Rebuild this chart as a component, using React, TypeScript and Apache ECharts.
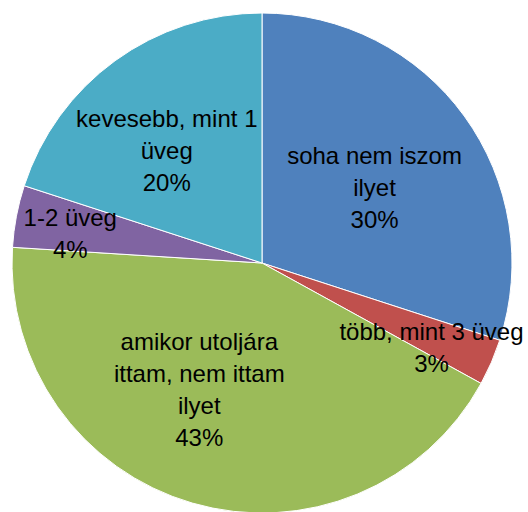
import React, { useEffect, useRef } from "react";
import * as echarts from "echarts";

const categories = [
  "soha nem iszom ilyet",
  "több, mint 3 üveg",
  "amikor utoljára ittam, nem ittam ilyet",
  "1-2 üveg",
  "kevesebb, mint 1 üveg",
];
const values = [30, 3, 43, 4, 20];
const labelTexts = [
  "soha nem iszom\nilyet",
  "több, mint 3 üveg",
  "amikor utoljára\nittam, nem ittam\nilyet",
  "1-2 üveg",
  "kevesebb, mint 1\nüveg",
];
const colors = ["#4F81BD", "#C0504D", "#9BBB59", "#8064A2", "#4BACC6"];
const labelOffsets = [
  [9, 0],
  [52, 34],
  [-27, 4],
  [-66, -6],
  [-20, -9],
];

export default function App() {
  const ref = useRef<HTMLDivElement>(null);
  useEffect(() => {
    if (!ref.current) return;
    const chart = echarts.init(ref.current, undefined, { renderer: "svg" });
    const total = values.reduce((a, b) => a + b, 0);
    chart.setOption({
      animation: false,
      backgroundColor: "#ffffff",
      series: [
        {
          type: "pie",
          center: [262, 263],
          radius: 250,
          startAngle: 90,
          clockwise: true,
          avoidLabelOverlap: false,
          itemStyle: { borderColor: "#ffffff", borderWidth: 1 },
          label: {
            show: true,
            position: "inside",
            color: "#000000",
            fontFamily: "Liberation Sans",
            fontSize: 24,
            lineHeight: 32,
            align: "center",
            formatter: (p: any) =>
              labelTexts[p.dataIndex] + "\n" + Math.round((p.value / total) * 100) + "%",
          },
          labelLine: { show: false },
          emphasis: { disabled: true },
          data: categories.map((name, i) => ({
            name,
            value: values[i],
            itemStyle: { color: colors[i] },
            label: { offset: labelOffsets[i] },
          })),
        },
      ],
    });
    return () => chart.dispose();
  }, []);
  return (
    <div
      ref={ref}
      style={{ position: "fixed", left: 0, top: 0, width: 528, height: 512 }}
    />
  );
}
